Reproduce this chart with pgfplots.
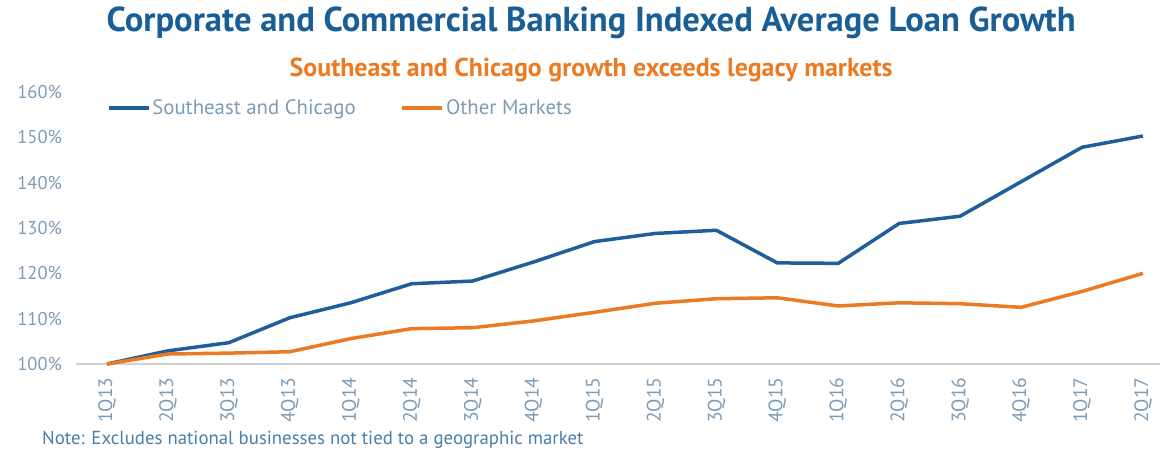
\documentclass[border=0pt]{standalone}
\usepackage{pgfplots}
\pgfplotsset{compat=1.18}
\usepackage{fontspec}
\setmainfont{PT Sans}
\definecolor{tblue}{HTML}{1A5E96}
\definecolor{lblue}{HTML}{1F5E9B}
\definecolor{lorange}{HTML}{EC7A23}
\definecolor{ticklbl}{HTML}{7C9CB6}
\definecolor{notec}{HTML}{4A7DA8}
\begin{document}
\begin{tikzpicture}
\begin{axis}[
  name=ax,
  scale only axis,
  width=1083.5pt, height=272pt,
  xmin=-0.5, xmax=17.28,
  ymin=100, ymax=160,
  clip=false,
  xtick={0,...,17},
  xticklabels={1Q13,2Q13,3Q13,4Q13,1Q14,2Q14,3Q14,4Q14,1Q15,2Q15,3Q15,4Q15,1Q16,2Q16,3Q16,4Q16,1Q17,2Q17},
  ytick={100,110,...,160},
  yticklabel={\pgfmathprintnumber{\tick}\%},
  /pgf/number format/assume math mode=true,
  major tick length=0pt,
  axis lines*=left,
  x axis line style={draw=black!18, line width=1.2pt, -},
  y axis line style={draw=none},
  xticklabel style={yshift=-10pt, rotate=90, anchor=east, font=\fontsize{19.5}{19.5}\selectfont, text=ticklbl},
  yticklabel style={font=\fontsize{18.5}{18.5}\selectfont, text=ticklbl, xshift=-11pt},
  xtick pos=bottom,
  tick style={draw=none},
  legend style={at={(0.028,0.941)}, anchor=west, draw=none, fill=none,
    legend columns=2, font=\fontsize{20.8}{20.8}\selectfont, text=ticklbl,
    /tikz/every even column/.append style={column sep=43pt},
    inner sep=0pt, outer sep=0pt},
  legend cell align=left,
  legend image code/.code={\draw[#1, line width=3.5pt] (0pt,0pt) -- (40pt,0pt);},
]
\addplot[lblue, line width=3.5pt, line join=round] coordinates {
(0,100) (1,102.9) (2,104.7) (3,110.2) (4,113.5) (5,117.7) (6,118.3) (7,122.5)
(8,127.0) (9,128.8) (10,129.5) (11,122.3) (12,122.2) (13,131.0) (14,132.6)
(15,140.2) (16,147.8) (17,150.3)};
\addlegendentry{Southeast and Chicago}
\addplot[lorange, line width=3.5pt, line join=round] coordinates {
(0,100) (1,102.2) (2,102.4) (3,102.7) (4,105.6) (5,107.8) (6,108.0) (7,109.5)
(8,111.4) (9,113.4) (10,114.4) (11,114.6) (12,112.8) (13,113.5) (14,113.3)
(15,112.5) (16,116.0) (17,120.0)};
\addlegendentry{Other Markets}
\node[font=\bfseries\fontsize{34.6}{34.6}\selectfont, text=tblue] at (axis description cs:0.475,1.255) {Corporate and Commercial Banking Indexed Average Loan Growth};
\node[font=\bfseries\fontsize{25.9}{25.9}\selectfont, text=lorange] at (axis description cs:0.475,1.081) {Southeast and Chicago growth exceeds legacy markets};
\node[anchor=west, font=\fontsize{18.8}{18.8}\selectfont, text=notec, inner sep=0pt] at (axis description cs:-0.0318,-0.279) {Note: Excludes national businesses not tied to a geographic market};
\path (rel axis cs:0,0) ++(-76.5pt,-90pt) rectangle ++(1163pt,454pt);
\end{axis}
\end{tikzpicture}
\end{document}
